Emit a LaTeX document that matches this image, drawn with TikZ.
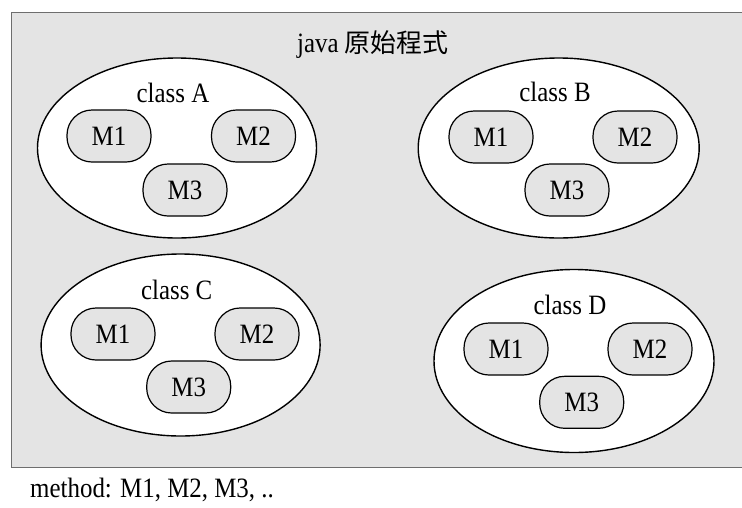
\documentclass[tikz,border=0pt]{standalone}
\usepackage{fontspec}
\setmainfont{Liberation Serif}[FakeStretch=0.89]
\newfontfamily\cjk{Noto Sans CJK TC}
\usetikzlibrary{shapes.geometric}
\definecolor{bg}{HTML}{E4E4E4}
\definecolor{framec}{HTML}{6E6E6E}
\begin{document}
\begin{tikzpicture}[x=1pt,y=-1pt,
  txt/.style={font=\fontsize{28}{30}\selectfont},
  cls/.style={ellipse,draw,fill=white,line width=1.4pt,inner sep=0pt},
  meth/.style={draw,fill=bg,rounded corners=25pt,line width=1.2pt,minimum width=84pt,minimum height=52pt,inner sep=0pt,txt},
  lbl/.style={inner sep=0pt,txt}]
\useasboundingbox (0,0) rectangle (742,507);
\node[draw=framec,fill=bg,line width=1.2pt,anchor=north west,minimum width=745pt,minimum height=454.5pt,inner sep=0pt] (src) at (10.5,12) {};
\node[lbl] (title) at (373,45) {java {\cjk\fontsize{26}{30}\selectfont 原始程式}};
% class A
\node[cls,minimum width=279pt,minimum height=180pt] (A) at (177,148) {};
\node[lbl] (Al) at (173,93) {class A};
\node[meth] (A1) at (109,136) {M1};
\node[meth] (A2) at (253.5,136) {M2};
\node[meth] (A3) at (185,190) {M3};
% class B
\node[cls,minimum width=281pt,minimum height=180pt] (B) at (558.7,148) {};
\node[lbl] (Bl) at (555,92) {class B};
\node[meth] (B1) at (491,137) {M1};
\node[meth] (B2) at (635,137) {M2};
\node[meth] (B3) at (567,190) {M3};
% class C
\node[cls,minimum width=279pt,minimum height=182pt] (C) at (180.6,345) {};
\node[lbl] (Cl) at (176.7,290) {class C};
\node[meth] (C1) at (113,334) {M1};
\node[meth] (C2) at (257,334) {M2};
\node[meth] (C3) at (188.7,387) {M3};
% class D
\node[cls,minimum width=280pt,minimum height=183pt] (D) at (574,361) {};
\node[lbl] (Dl) at (570,305) {class D};
\node[meth] (D1) at (506,349) {M1};
\node[meth] (D2) at (650,349) {M2};
\node[meth] (D3) at (581.7,402.3) {M3};
\node[lbl,anchor=west] (note) at (30,490) {method: M1, M2, M3, ..};
\end{tikzpicture}
\end{document}
